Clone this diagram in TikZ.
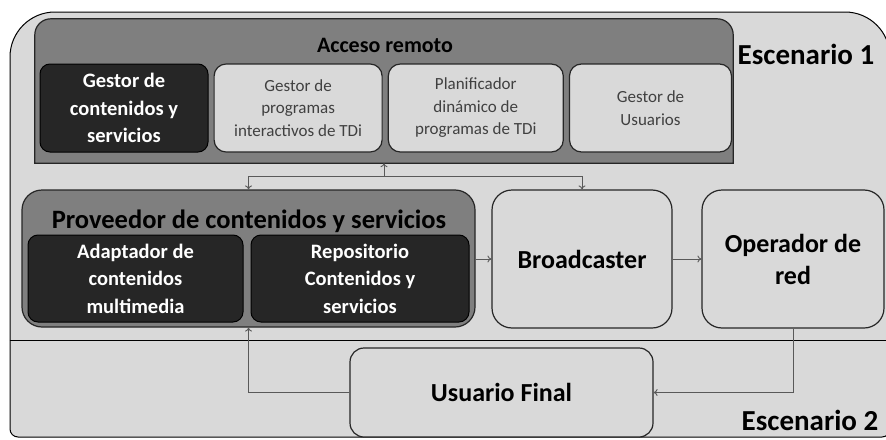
\documentclass[tikz,border=0pt]{standalone}
\usepackage{fontspec}
\setmainfont{Carlito}
\usetikzlibrary{arrows.meta, positioning}
\definecolor{EscGray}{HTML}{D9D9D9}
\definecolor{AccGray}{HTML}{7F7F7F}
\definecolor{DarkBox}{HTML}{262626}
\definecolor{LineGray}{HTML}{595959}
\definecolor{TextGray}{HTML}{404040}

\begin{document}
\begin{tikzpicture}[x=1pt, y=-1pt, node distance=5pt,
    darkbox/.style={rectangle, rounded corners=10pt, draw=black, line width=1pt, fill=DarkBox, text=white, align=center, inner sep=0pt, font=\fontsize{20.5}{27.5}\selectfont\bfseries},
    lightbox/.style={rectangle, rounded corners=12pt, draw=DarkBox, line width=1.2pt, fill=EscGray, text=TextGray, align=center, inner sep=0pt, minimum height=88pt, font=\fontsize{17}{22.5}\selectfont},
    bigbox/.style={rectangle, rounded corners=20pt, draw=DarkBox, line width=1.2pt, fill=EscGray, align=center, inner sep=0pt, font=\fontsize{26}{32}\selectfont\bfseries},
    flow/.style={draw=LineGray, line width=0.9pt, -{To[length=4pt, width=7pt]}}]

        \useasboundingbox (0,0) rectangle (886,439);

        % escenarios
        \draw[fill=EscGray, line width=1pt, rounded corners=45] (10,340) -- (10,12) -- (890,12) -- (890,340);
        \draw[fill=EscGray, line width=1pt, rounded corners=8] (10,340) -- (10,437) -- (890,437) -- (890,340);
        \draw[line width=1pt] (10,340) -- (890,340);
        \node[font=\fontsize{29}{32}\selectfont\bfseries, anchor=base] (esc1) at (806,64) {Escenario 1};
        \node[font=\fontsize{29}{32}\selectfont\bfseries, anchor=base] (esc2) at (810,430) {Escenario 2};

        % acceso remoto
        \node[minimum width=698pt, minimum height=144pt, inner sep=0pt] (acceso) at (384,91) {};
        \draw[fill=AccGray, draw=DarkBox, line width=1.2pt] (acceso.south west) [rounded corners=16] -- (acceso.north west) -- (acceso.north east) [sharp corners] -- (acceso.south east) -- cycle;
        \node[font=\fontsize{22}{24}\selectfont\bfseries, anchor=base] (accesoT) at (385,52) {Acceso remoto};

        \node[darkbox, minimum width=168pt, minimum height=88pt] (gestCont) at (124,108) {Gestor de\\contenidos y\\servicios};
        \node[lightbox, minimum width=168pt, right=of gestCont] (gestProg) {Gestor de\\programas\\interactivos de TDi};
        \node[lightbox, minimum width=175pt, right=of gestProg] (planif) {Planificador\\dinámico de\\programas de TDi};
        \node[lightbox, minimum width=162pt, right=of planif] (gestUsu) {Gestor de\\Usuarios};

        % proveedor
        \node[rectangle, rounded corners=20pt, draw=DarkBox, line width=1.2pt, fill=AccGray, minimum width=453pt, minimum height=137pt] (prov) at (248.5,258.5) {};
        \node[font=\fontsize{26.5}{28}\selectfont\bfseries, anchor=base] (provT) at (249,228) {Proveedor de contenidos y servicios};
        \node[darkbox, minimum width=215pt, minimum height=87pt] (adapt) at (135.5,278.5) {Adaptador de\\contenidos\\multimedia};
        \node[darkbox, minimum width=218pt, minimum height=87pt, right=7pt of adapt] (repo) {Repositorio\\Contenidos y\\servicios};

        \node[bigbox, minimum width=180pt, minimum height=138pt] (broad) at (582,259) {Broadcaster};
        \node[bigbox, minimum width=182pt, minimum height=138pt] (oper) at (793,259) {Operador de\\red};
        \node[bigbox, rounded corners=14pt, minimum width=303pt, minimum height=89pt] (usuario) at (501.5,392.5) {Usuario Final};

        % conexiones
        \coordinate (split) at (acceso.south |- 0,176);
        \draw[flow] (split) -- (acceso.south);
        \draw[flow] (split) -| (prov.north);
        \draw[flow] (split) -| (broad.north);
        \draw[flow] (prov.east |- broad.west) -- (broad.west);
        \draw[flow] (broad) -- (oper);
        \draw[flow] (oper.south) |- (usuario.east);
        \draw[flow] (usuario.west) -| (prov.south);

    \end{tikzpicture}
\end{document}
